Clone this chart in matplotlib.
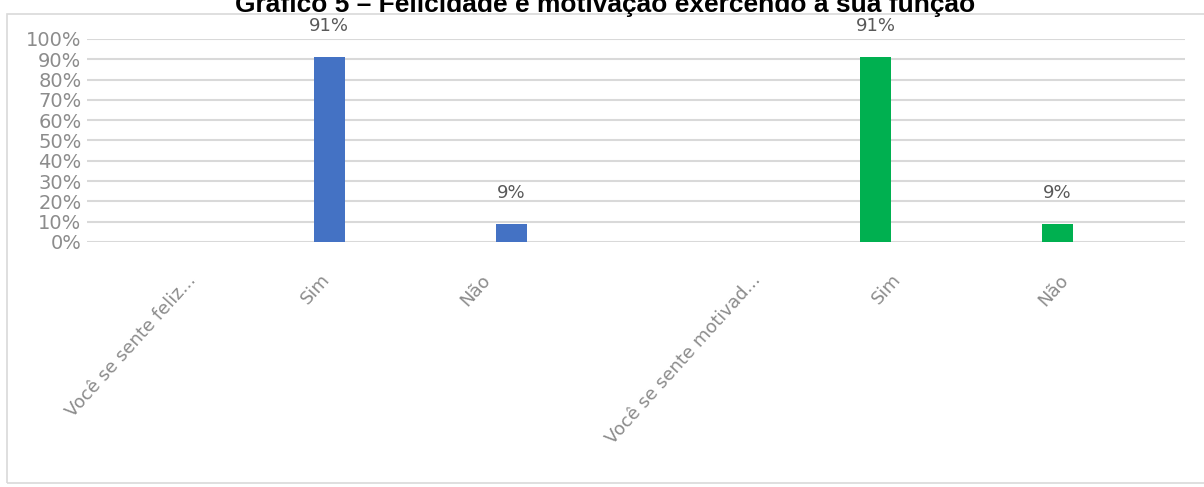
import numpy as np
import matplotlib.pyplot as plt
from matplotlib.patches import Rectangle
from matplotlib.transforms import ScaledTranslation

# Dados do gráfico (percentual de respostas)
categorias = ["Você se sente feliz...", "Sim", "Não",
              "Você se sente motivad...", "Sim", "Não"]
feliz = [np.nan, 91, 9, np.nan, np.nan, np.nan]
motivado = [np.nan, np.nan, np.nan, np.nan, 91, 9]
ticks_y = list(range(0, 101, 10))

titulo = "Gráfico 5 – Felicidade e motivação exercendo a sua função"

azul = "#4472C4"
verde = "#00B050"
cinza_texto = "#8c8c8c"
cinza_grade = "#d9d9d9"

W, H = 1204, 487
fig = plt.figure(figsize=(W / 100, H / 100), dpi=100)

# Moldura do gráfico
fig.patches.append(Rectangle((7 / W, 4 / H), 1.2, (482 - 13) / H,
                             transform=fig.transFigure, fill=False,
                             edgecolor=cinza_grade, linewidth=1.2))

ax = fig.add_axes([87 / W, 1 - 242 / H, (1185 - 87) / W, (242 - 39) / H])

x = np.arange(len(categorias))
largura = 0.17
b1 = ax.bar(x, feliz, width=largura, color=azul, zorder=3)
b2 = ax.bar(x, motivado, width=largura, color=verde, zorder=3)

# Rótulos de valor acima das barras
for barras, valores in ((b1, feliz), (b2, motivado)):
    for barra, v in zip(barras, valores):
        if np.isnan(v):
            continue
        ax.annotate(f"{v:.0f}%", (barra.get_x() + barra.get_width() / 2, v),
                    xytext=(0, 16), textcoords="offset points",
                    ha="center", va="bottom", fontsize=13, color="#595959")

ax.set_ylim(0, 100)
ax.set_xlim(-0.33, 5.70)
ax.set_yticks(ticks_y)
ax.set_yticklabels([f"{t}%" for t in ticks_y], fontsize=14, color=cinza_texto)
ax.yaxis.grid(True, color=cinza_grade, linewidth=1.5, zorder=0)
ax.tick_params(axis="y", length=0, pad=4)

ax.set_xticks(x)
ax.set_xticklabels(categorias, rotation=48, ha="right", va="center",
                   rotation_mode="anchor", fontsize=13, color=cinza_texto)
ax.tick_params(axis="x", length=0, pad=25)

# deslocamento horizontal (px) de cada rótulo do eixo x
desloc = [46, -2, -24, 64, 22, 8]
for rotulo, dx in zip(ax.get_xticklabels(), desloc):
    rotulo.set_transform(rotulo.get_transform() +
                         ScaledTranslation(dx / 100, 0, fig.dpi_scale_trans))

for s in ax.spines.values():
    s.set_visible(False)

fig.text(0.503, 1 - 12 / H, titulo, ha="center", va="baseline",
         fontsize=19, fontweight="bold", family="Liberation Sans")

fig.savefig("out.png", dpi=100)
